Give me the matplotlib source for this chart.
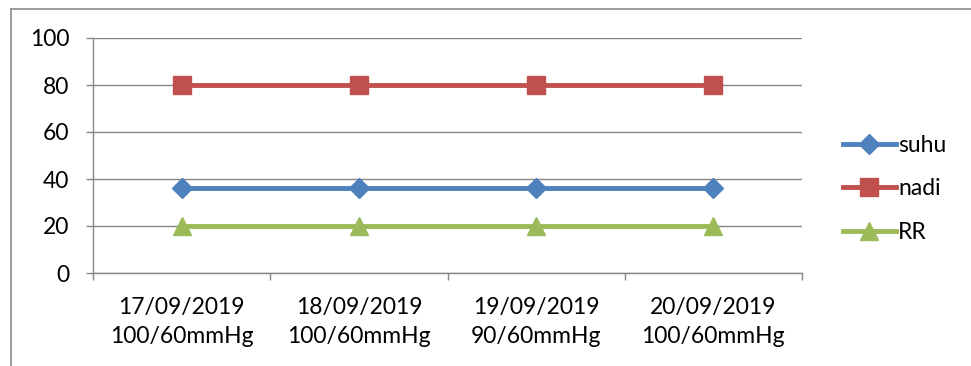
import matplotlib.pyplot as plt
from matplotlib.lines import Line2D

# data
categories = ["17/09/2019\n100/60mmHg", "18/09/2019\n100/60mmHg",
              "19/09/2019\n90/60mmHg", "20/09/2019\n100/60mmHg"]
suhu = [36, 36, 36, 36]
nadi = [80, 80, 80, 80]
rr = [20, 20, 20, 20]
y_ticks = [0, 20, 40, 60, 80, 100]

GRID = "#868686"
FS = 16.5
plt.rcParams["font.family"] = ["Lato", "DejaVu Sans"]

fig = plt.figure(figsize=(9.71, 3.66), dpi=100)
ax = fig.add_axes([93 / 971, 1 - 273 / 366, (802 - 93) / 971, (273 - 38) / 366])

x = list(range(len(categories)))
ax.plot(x, suhu, color="#4F81BD", lw=3.5, marker="D", ms=10, label="suhu")
ax.plot(x, nadi, color="#C0504D", lw=3.5, marker="s", ms=13, label="nadi")
ax.plot(x, rr, color="#9BBB59", lw=3.5, marker="^", ms=13, label="RR")

ax.set_xlim(-0.5, len(categories) - 0.5)
ax.set_ylim(0, 100)
ax.set_yticks(y_ticks)
ax.yaxis.grid(True, color=GRID, lw=1)
ax.set_axisbelow(True)

ax.set_xticks(x)
ax.set_xticklabels(categories, fontsize=FS, linespacing=1.5)
ax.set_xticks([i - 0.5 for i in range(len(categories) + 1)], minor=True)
ax.tick_params(axis="x", which="major", length=0, pad=17)
ax.tick_params(axis="x", which="minor", length=5, color=GRID, width=1)
ax.tick_params(axis="y", length=5, color=GRID, width=1, labelsize=FS, pad=12)

for side in ["top", "right"]:
    ax.spines[side].set_visible(False)
for side in ["left", "bottom"]:
    ax.spines[side].set_color(GRID)
    ax.spines[side].set_linewidth(1)
ax.spines["left"].set_bounds(0, 100)

ax.legend(loc="center left", bbox_to_anchor=(843 / 971, 1 - 189 / 366),
          bbox_transform=fig.transFigure, frameon=False, fontsize=FS,
          handlelength=2.3, handletextpad=0.1, labelspacing=1.0, borderpad=0,
          borderaxespad=0)

# outer chart border (left and top only visible)
fig.add_artist(Line2D([10.5 / 971, 10.5 / 971], [0, 1 - 8.5 / 366],
                      transform=fig.transFigure, color="#8c8c8c", lw=1.2))
fig.add_artist(Line2D([10.5 / 971, 1], [1 - 8.5 / 366, 1 - 8.5 / 366],
                      transform=fig.transFigure, color="#8c8c8c", lw=1.2))

fig.savefig("out.png", dpi=100)
